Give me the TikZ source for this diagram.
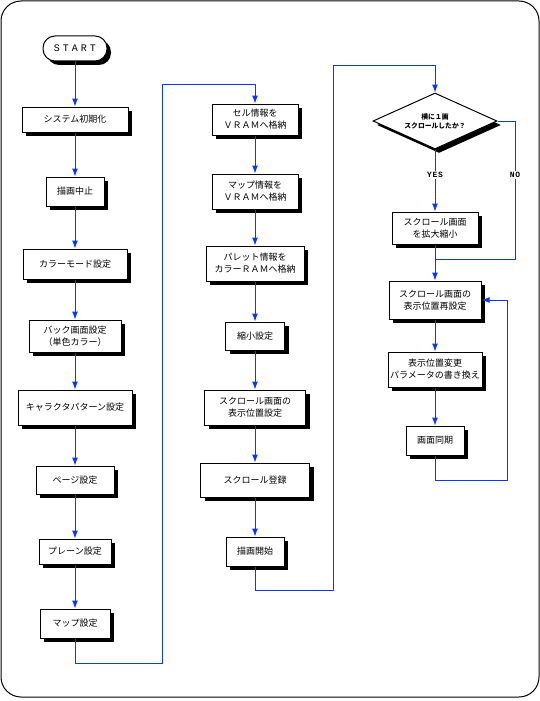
\documentclass[tikz,border=0pt]{standalone}
\usepackage{fontspec}
\usetikzlibrary{arrows.meta,shapes.geometric,shadows}
\newfontfamily\jp{Noto Sans CJK JP}
\newfontfamily\monosp[LetterSpace=30]{Liberation Mono}
\newfontfamily\monolbl[LetterSpace=10]{Liberation Mono}
\definecolor{lineblue}{RGB}{10,55,255}
\tikzset{
  box/.style={draw=black, line width=1pt, fill=white, align=center, inner sep=0pt,
    font=\jp\fontsize{9}{12}\selectfont,
    drop shadow={shadow xshift=4pt, shadow yshift=-4pt, fill=black, opacity=1}},
  startbox/.style={box, rounded corners=12pt, font=\monosp\fontsize{10}{12}\selectfont},
  decision/.style={box, diamond, aspect=2.2, font=\jp\bfseries\fontsize{6.8}{9}\selectfont},
  conn/.style={draw=lineblue, line width=1pt},
  arr/.style={conn, -{Latex[length=8pt,width=6pt]}},
  lbl/.style={fill=white, inner sep=1pt, font=\monolbl\bfseries\fontsize{8}{10}\selectfont},
  frame/.style={draw=black, line width=1pt, rounded corners=20pt}
}
\begin{document}
\begin{tikzpicture}[x=1pt,y=-1pt]
\useasboundingbox (0,0) rectangle (540,701);
\path[frame] (1,1) rectangle (539,697);

% left column
\node[startbox, minimum width=64pt, minimum height=25pt] (start) at (75,48.5) {START};
\node[box, minimum width=106pt, minimum height=25pt] (n1) at (75,119.5) {システム初期化};
\node[box, minimum width=58pt, minimum height=29pt] (n2) at (75,191.5) {描画中止};
\node[box, minimum width=104pt, minimum height=30pt] (n3) at (75,264) {カラーモード設定};
\node[box, minimum width=92pt, minimum height=32pt] (n4) at (75,336) {バック画面設定\\（単色カラー）};
\node[box, minimum width=114pt, minimum height=35pt] (n5) at (75,407.5) {キャラクタパターン設定};
\node[box, minimum width=78pt, minimum height=28pt] (n6) at (75,480) {ページ設定};
\node[box, minimum width=72pt, minimum height=25pt] (n7) at (75,551.5) {プレーン設定};
\node[box, minimum width=70pt, minimum height=29pt] (n8) at (75,623.5) {マップ設定};

% middle column
\node[box, minimum width=86pt, minimum height=31pt] (m1) at (255,119.5) {セル情報を\\ＶＲＡＭへ格納};
\node[box, minimum width=86pt, minimum height=35pt] (m2) at (255,191.5) {マップ情報を\\ＶＲＡＭへ格納};
\node[box, minimum width=98pt, minimum height=35pt] (m3) at (255,263.5) {パレット情報を\\カラーＲＡＭへ格納};
\node[box, minimum width=59pt, minimum height=28pt] (m4) at (255,336) {縮小設定};
\node[box, minimum width=101pt, minimum height=35pt] (m5) at (255,407.5) {スクロール画面の\\表示位置設定};
\node[box, minimum width=109pt, minimum height=34pt] (m6) at (255,480) {スクロール登録};
\node[box, minimum width=58pt, minimum height=29pt] (m7) at (255,551.5) {描画開始};

% right column
\node[decision, minimum width=124pt, minimum height=56pt] (dia) at (435,121) {横に１画\\スクロールしたか？};
\node[box, minimum width=86pt, minimum height=32pt] (r1) at (435,228) {スクロール画面\\を拡大縮小};
\node[box, minimum width=92pt, minimum height=38pt] (r2) at (435,300) {スクロール画面の\\表示位置再設定};
\node[box, minimum width=94pt, minimum height=35pt] (r3) at (435,369.5) {表示位置変更\\パラメータの書き換え};
\node[box, minimum width=58pt, minimum height=29pt] (r4) at (435,440.5) {画面同期};

% coordinates
\coordinate (a1) at (162,663);
\coordinate (a2) at (162,84);
\coordinate (b1) at (333,590);
\coordinate (b2) at (333,66);
\coordinate (noR) at (515,259);
\coordinate (join) at (435,259);
\coordinate (lp1) at (507,480);
\coordinate (lp2) at (507,300);

% connectors
\draw[arr] (start) -- (n1);
\draw[arr] (n1) -- (n2);
\draw[arr] (n2) -- (n3);
\draw[arr] (n3) -- (n4);
\draw[arr] (n4) -- (n5);
\draw[arr] (n5) -- (n6);
\draw[arr] (n6) -- (n7);
\draw[arr] (n7) -- (n8);
\draw[arr] (n8.south) |- (a1) -- (a2) -| (m1.north);
\draw[arr] (m1) -- (m2);
\draw[arr] (m2) -- (m3);
\draw[arr] (m3) -- (m4);
\draw[arr] (m4) -- (m5);
\draw[arr] (m5) -- (m6);
\draw[arr] (m6) -- (m7);
\draw[arr] (m7.south) |- (b1) -- (b2) -| (dia.north);
\draw[arr] (dia.south) -- (r1.north);
\draw[conn] (dia.east) -| (noR) -- (join);
\draw[arr] (r1) -- (r2);
\draw[arr] (r2) -- (r3);
\draw[arr] (r3) -- (r4);
\draw[arr] (r4.south) |- (lp1) -- (lp2) -- (r2.east);

% labels
\node[lbl] (yes) at (435,175) {YES};
\node[lbl] (no) at (515,175) {NO};
\end{tikzpicture}
\end{document}
